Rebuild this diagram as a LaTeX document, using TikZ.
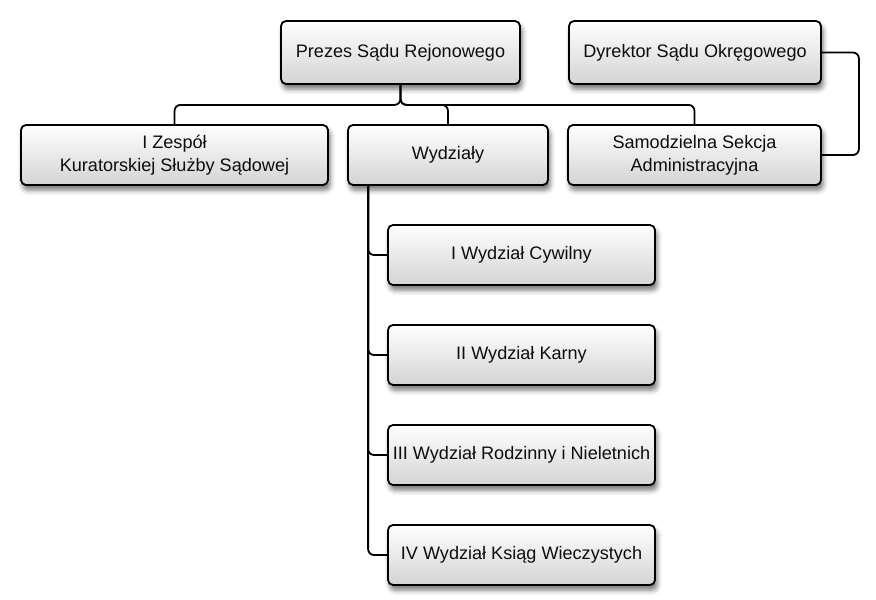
\documentclass[tikz,border=0pt]{standalone}
\usepackage{fontspec}
\setmainfont{Liberation Sans}
\usetikzlibrary{shadows.blur}
\tikzset{
  box/.style={draw=black, line width=1.8pt, rounded corners=5pt,
    top color=white, bottom color=black!17, align=center,
    inner sep=0pt, minimum height=60pt, text=black!95,
    font=\fontsize{18.1}{23}\selectfont,
    blur shadow={shadow xshift=2pt, shadow yshift=-5pt, shadow blur radius=5pt, shadow opacity=55}},
  conn/.style={draw=black, line width=1.8pt, rounded corners=6pt}
}
\begin{document}
\begin{tikzpicture}[x=1pt,y=-1pt]
\useasboundingbox (0,0) rectangle (876,600);
\node[box, minimum width=239pt, minimum height=63pt] (prezes) at (400.5,52.5) {Prezes Sądu Rejonowego};
\node[box, minimum width=252pt, minimum height=63pt] (dyr) at (695,52.5) {Dyrektor Sądu Okręgowego};
\node[box, minimum width=307pt] (zesp) at (174.5,155) {I Zespół\\Kuratorskiej Służby Sądowej};
\node[box, minimum width=200pt] (wydz) at (448,155) {Wydziały};
\node[box, minimum width=253pt] (samo) at (694.5,155) {Samodzielna Sekcja\\Administracyjna};
\node[box, minimum width=267pt] (w1) at (521.5,255) {I Wydział Cywilny};
\node[box, minimum width=267pt] (w2) at (521.5,355) {II Wydział Karny};
\node[box, minimum width=267pt] (w3) at (521.5,455) {III Wydział Rodzinny i Nieletnich};
\node[box, minimum width=267pt] (w4) at (521.5,555) {IV Wydział Ksiąg Wieczystych};
\draw[conn] (prezes.south) -- ++(0,20) -| (zesp.north);
\draw[conn] (prezes.south) -- ++(0,20) -| (wydz.north);
\draw[conn] (prezes.south) -- ++(0,20) -| (samo.north);
\draw[conn] (dyr.east) -- ++(37,0) |- (samo.east);
\draw[conn] ([xshift=21pt]wydz.south west) |- (w1.west);
\draw[conn] ([xshift=21pt]wydz.south west) |- (w2.west);
\draw[conn] ([xshift=21pt]wydz.south west) |- (w3.west);
\draw[conn] ([xshift=21pt]wydz.south west) |- (w4.west);
\end{tikzpicture}
\end{document}
